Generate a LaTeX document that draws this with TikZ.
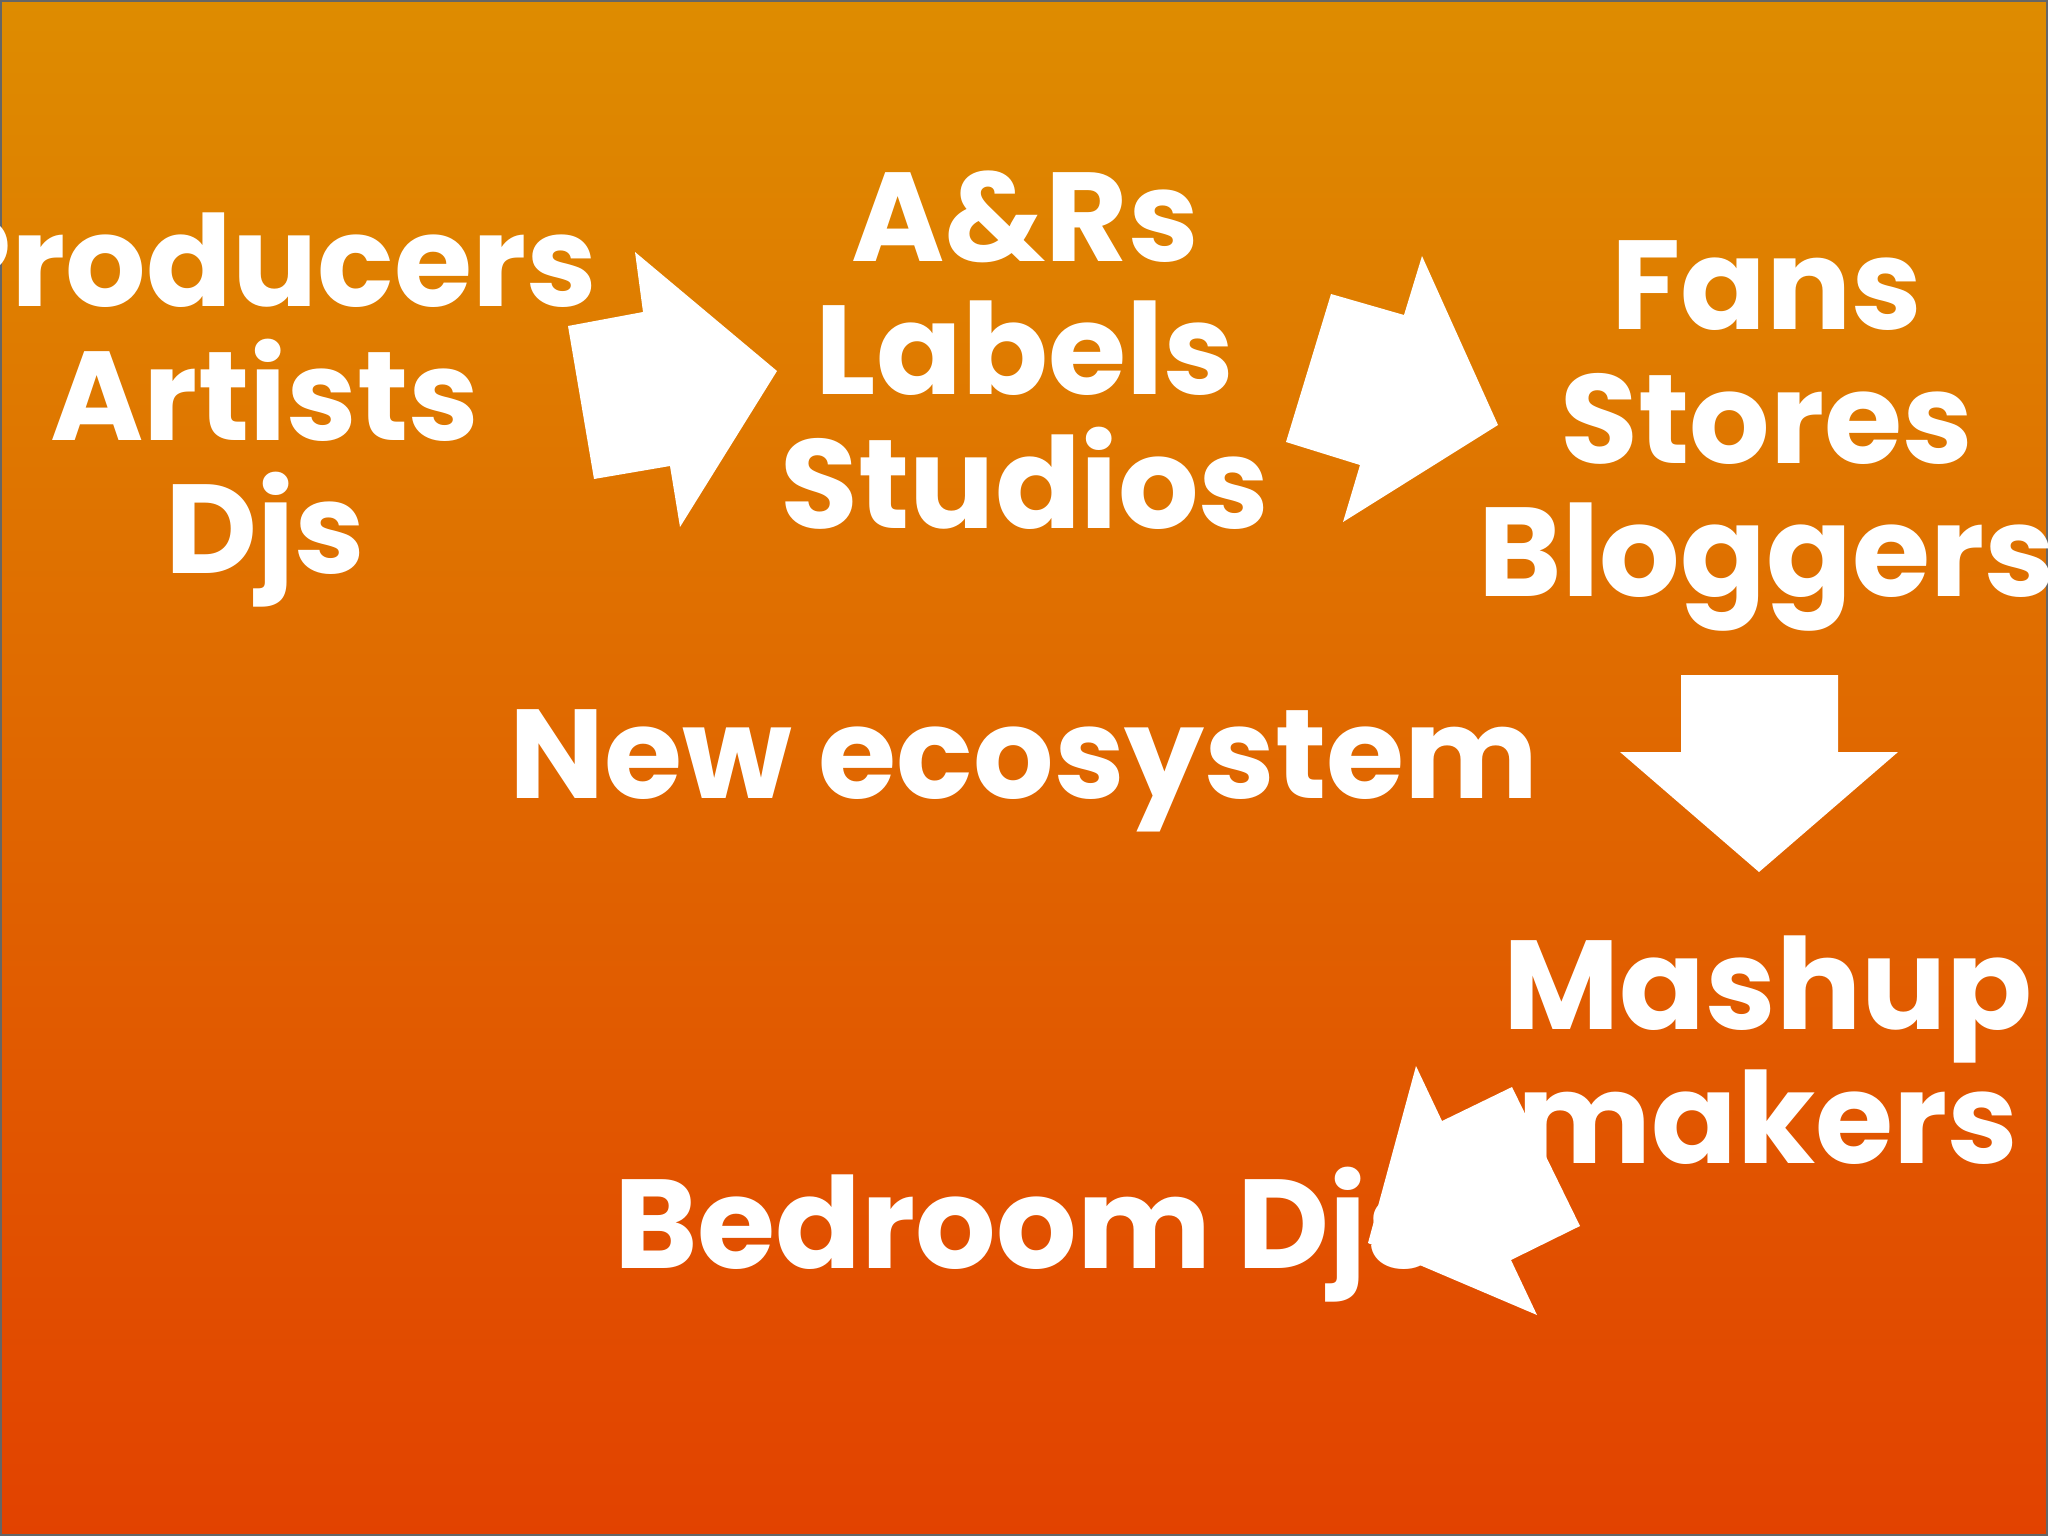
\documentclass[tikz,border=0pt]{standalone}
\usepackage{fontspec}
\setmainfont{Poppins}[UprightFont=* Bold,BoldFont=* Bold]
\begin{document}
\begin{tikzpicture}[x=0.01cm,y=-0.01cm,
  lbl/.style={text=white,font=\fontsize{36}{38}\selectfont,align=center},
  arr/.style={fill=white,draw=none}]
\useasboundingbox (0,0) rectangle (2048,1536);
\shade[top color={rgb,255:red,222;green,140;blue,0},middle color={rgb,255:red,255;green,122;blue,0},bottom color={rgb,255:red,226;green,66;blue,0}] (0,0) rectangle (2048,1536);
\draw[black!60,line width=1pt] (0,0) rectangle (2048,1536);
\node[lbl] (prod) at (265,410) {Producers\\Artists\\Djs};
\node[lbl] (anr) at (1025,350) {A\&Rs\\Labels\\Studios};
\node[lbl] (fans) at (1767,436) {Fans\\Stores\\Bloggers};
\node[lbl] (eco) at (1024,771) {New ecosystem};
\node[lbl] (mash) at (1768,1050) {Mashup\\makers};
\node[lbl] (bed) at (1026,1235) {Bedroom Djs};
\fill[arr] (568,326)--(643,312)--(635,252)--(777,371)--(680,527)--(670,466)--(594,479)--cycle;
\fill[arr] (1331,294)--(1404,315)--(1422,256)--(1498,425)--(1343,522)--(1360,465)--(1286,442)--cycle;
\fill[arr] (1681,675)--(1838,675)--(1838,752)--(1898,752)--(1759,872)--(1620,752)--(1681,752)--cycle;
\fill[arr] (1512,1087)--(1580,1226)--(1511,1260)--(1537,1315)--(1368,1243)--(1416,1066)--(1442,1121)--cycle;
\end{tikzpicture}
\end{document}
